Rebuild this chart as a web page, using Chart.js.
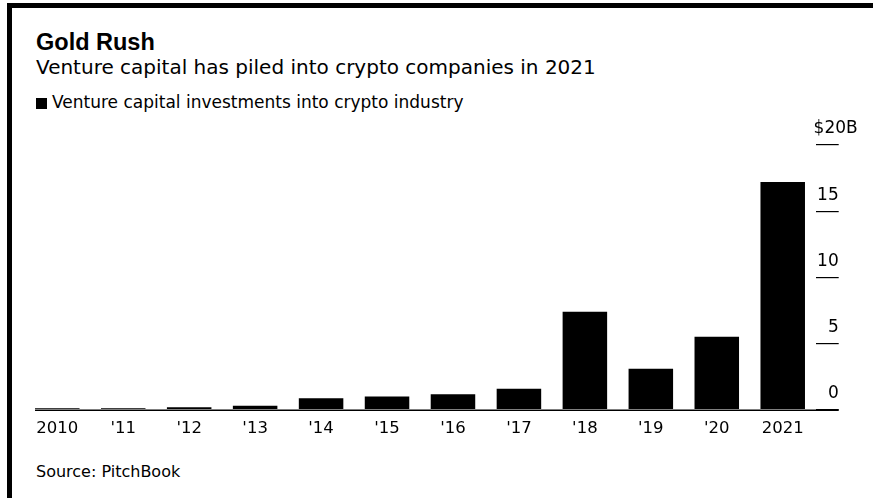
<!DOCTYPE html>
<html>
<head>
<meta charset="utf-8">
<script src="https://cdn.jsdelivr.net/npm/chart.js@4"></script>
<style>
  html, body { margin: 0; padding: 0; background: #fff; overflow: hidden; }
  body { width: 873px; height: 498px; position: relative; font-family: "DejaVu Sans", sans-serif; color: #000; }
  #frame { position: absolute; left: 7px; top: 3px; width: 900px; height: 520px; border-left: 5px solid #000; border-top: 5px solid #000; }
  .txt { position: absolute; left: 36px; white-space: nowrap; line-height: 1; }
  #title { top: 31px; font-family: "Liberation Sans", Arial, sans-serif; font-size: 23.5px; font-weight: bold; }
  #subtitle { top: 57px; font-size: 20px; }
  #legend { top: 93.6px; font-size: 17px; }
  #legend .sw { display: inline-block; width: 11px; height: 11px; background: #000; margin-right: 5px; vertical-align: -1px; }
  #source { top: 463.5px; font-size: 16px; }
  canvas { position: absolute; left: 0; top: 0; }
</style>
</head>
<body>
<div id="frame"></div>
<div class="txt" id="title">Gold Rush</div>
<div class="txt" id="subtitle">Venture capital has piled into crypto companies in 2021</div>
<div class="txt" id="legend"><span class="sw"></span>Venture capital investments into crypto industry</div>
<div class="txt" id="source">Source: PitchBook</div>
<canvas id="chart" width="873" height="498"></canvas>

<script>
// ========== DATA ==========
const years = ["2010", "'11", "'12", "'13", "'14", "'15", "'16", "'17", "'18", "'19", "'20", "2021"];
const vcInvestments = [0.1, 0.1, 0.18, 0.3, 0.86, 0.99, 1.16, 1.57, 7.4, 3.09, 5.5, 17.2];  // $B
const yTicks = [0, 5, 10, 15, 20];

const TICK_LEN = 23;
const FONT = "'DejaVu Sans', sans-serif";

// y labels sit above their tick marks, right-aligned to the tick end
const yLabelsPlugin = {
  id: "yLabels",
  afterDraw(chart) {
    const { ctx, chartArea, scales } = chart;
    const y = scales.y;
    const xEnd = chartArea.right + TICK_LEN;
    ctx.save();
    ctx.fillStyle = "#000";
    ctx.font = "17px " + FONT;
    ctx.textBaseline = "middle";
    ctx.textAlign = "right";
    yTicks.forEach((v, i) => {
      const py = y.getPixelForValue(v);
      const isTop = i === yTicks.length - 1;
      const label = isTop ? "$" + v + "B" : String(v);
      ctx.fillText(label, isTop ? xEnd + 19 : xEnd, py - 16);
    });
    ctx.restore();
  },
  afterDatasetsDraw(chart) {
    // baseline: from first bar's left edge to the end of the tick marks
    const { ctx, chartArea, scales } = chart;
    const bar = chart.getDatasetMeta(0).data[0];
    const py = Math.round(scales.y.getPixelForValue(0)) + 0.25;
    ctx.save();
    ctx.strokeStyle = "#000";
    ctx.lineWidth = 1.5;
    ctx.beginPath();
    ctx.moveTo(bar.x - bar.width / 2, py);
    ctx.lineTo(chartArea.right + TICK_LEN, py);
    ctx.stroke();
    ctx.restore();
  },
};

new Chart(document.getElementById("chart"), {
  type: "bar",
  data: {
    labels: years,
    datasets: [
      {
        label: "Venture capital investments into crypto industry",
        data: vcInvestments,
        backgroundColor: "#000",
        borderWidth: 0,
        barPercentage: 0.675,
        categoryPercentage: 1,
      },
    ],
  },
  options: {
    responsive: false,
    animation: false,
    layout: { padding: { left: 24.3, right: 34.3, top: 145, bottom: 50.6 } },
    plugins: {
      legend: { display: false },
      tooltip: { enabled: false },
    },
    scales: {
      x: {
        grid: { display: false, drawTicks: false },
        border: { display: false },
        ticks: {
          color: "#000",
          padding: 9,
          maxRotation: 0,
          autoSkip: false,
          font: { family: FONT, size: 16.5 },
        },
      },
      y: {
        position: "right",
        min: 0,
        max: 20,
        border: { display: false },
        grid: {
          drawOnChartArea: false,
          drawTicks: true,
          tickLength: TICK_LEN,
          color: "#000",
          lineWidth: 1.2,
        },
        ticks: { display: false, stepSize: 5 },
      },
    },
  },
  plugins: [yLabelsPlugin],
});
</script>
</body>
</html>
